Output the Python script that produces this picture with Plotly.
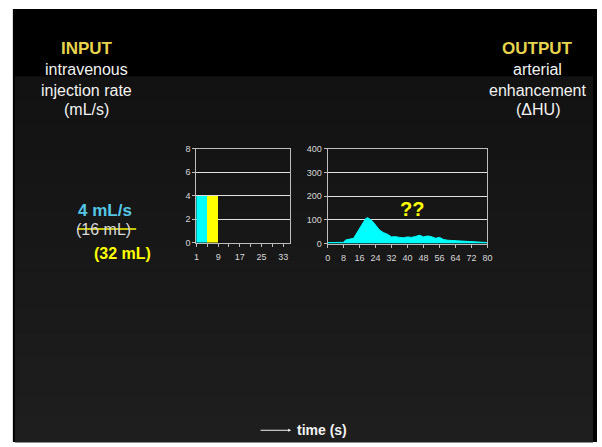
import plotly.graph_objects as go

# ---- data ----
# injection protocol: rate (mL/s) for each second of the injection
inj_time = [1, 2, 3, 4, 5, 6, 7, 8]
inj_rate = [4, 4, 4, 4, 4, 4, 4, 4]
inj_phase = ["first", "first", "first", "first", "second", "second", "second", "second"]

# arterial enhancement curve (HU) versus time (s)
enh_time = [0, 4, 8, 9, 10, 12, 13, 14, 16, 18, 19, 20, 21, 22, 24, 26, 28, 30, 32,
            34, 36, 38, 40, 42, 44, 46, 48, 50, 52, 54, 56, 58, 60, 64, 66, 68, 72, 76, 80]
enh_hu = [4, 5, 5, 15, 17, 18, 22, 36, 64, 89, 105, 109, 105, 98, 78, 57, 46, 39, 28,
          29, 26, 24, 28, 26, 30, 35, 28, 32, 29, 22, 26, 17, 14, 12, 12, 10, 8, 7, 4]

rate_ticks = [1, 9, 17, 25, 33]
time_ticks = [0, 8, 16, 24, 32, 40, 48, 56, 64, 72, 80]

W, H = 602, 447
FONT = "Liberation Sans, Arial, sans-serif"


def px(x):
    return x / W


def py(y):
    return 1 - y / H


phase_color = {"first": "#00FFFF", "second": "#FFFF00"}

fig = go.Figure()

fig.add_trace(go.Bar(
    x=inj_time, y=inj_rate, width=1, offset=0,
    marker=dict(color=[phase_color[p] for p in inj_phase], line=dict(width=0)),
    xaxis="x", yaxis="y", showlegend=False,
))

fig.add_trace(go.Scatter(
    x=enh_time, y=enh_hu, mode="lines", fill="tozeroy",
    fillcolor="#00FFFF", line=dict(color="#00FFFF", width=1),
    xaxis="x2", yaxis="y2", showlegend=False,
))

tickfont = dict(family=FONT, size=9, color="#d8d8d8")
axis_common = dict(
    showline=True, linecolor="#bdbdbd", linewidth=1, mirror=True,
    tickfont=tickfont, ticks="outside", ticklen=3, tickcolor="#bdbdbd",
    zeroline=False, fixedrange=True,
)

# slide background: white margin, black title band, dark gradient body
shapes = [
    dict(type="rect", xref="paper", yref="paper", x0=px(10), x1=px(602),
         y0=py(447), y1=py(4), fillcolor="#000000", line=dict(width=0), layer="below"),
]
top, bottom = 73, 447
steps = 30
for i in range(steps):
    y0 = top + (bottom - top) * i / steps
    y1 = top + (bottom - top) * (i + 1) / steps
    t = i / (steps - 1)
    v = int(round(0x12 + (0x1e - 0x12) * t))
    shapes.append(dict(type="rect", xref="paper", yref="paper", x0=px(12), x1=px(598),
                       y0=py(y1 + 0.5), y1=py(y0), fillcolor=f"rgb({v},{v},{v})",
                       line=dict(width=0), layer="below"))

# strike-through over the first-phase volume
shapes.append(dict(type="line", xref="paper", yref="paper",
                   x0=px(75), x1=px(135), y0=py(229), y1=py(229),
                   line=dict(color="#FFFF00", width=1.5)))

annotations = []


def txt(x, y, s, size, color, bold=False, anchor="center"):
    annotations.append(dict(
        x=px(x), y=py(y), xref="paper", yref="paper", showarrow=False,
        text=f"<b>{s}</b>" if bold else s, xanchor=anchor, yanchor="middle",
        borderpad=0,
        font=dict(family=FONT, size=size, color=color),
    ))


title_yellow = "#E8D44D"
txt(85, 45, "INPUT", 17, title_yellow, bold=True)
txt(85, 66, "intravenous", 16, "#f2f2f2")
txt(85, 87, "injection rate", 16, "#f2f2f2")
txt(85, 107, "(mL/s)", 16, "#f2f2f2")

txt(542, 45, "OUTPUT", 17, title_yellow, bold=True)
txt(542, 66, "arterial", 16, "#f2f2f2")
txt(542, 87, "enhancement", 16, "#f2f2f2")
txt(542, 107, "(ΔHU)", 16, "#f2f2f2")

txt(75, 210, "4 mL/s", 17, "#55C6E6", bold=True, anchor="left")
txt(73, 230, "(16 mL)", 16, "#d9d9d9", anchor="left")
txt(91, 254, "(32 mL)", 16, "#FFFF00", bold=True, anchor="left")

txt(415, 209, "??", 20, "#FFFF00", bold=True)

txt(297, 435, "time (s)", 14, "#f2f2f2", bold=True, anchor="left")
annotations.append(dict(
    x=px(292), y=py(435), xref="paper", yref="paper", ax=-32, ay=0,
    showarrow=True, arrowhead=2, arrowsize=0.6, arrowwidth=1, arrowcolor="#f2f2f2", text="",
))

fig.update_layout(
    width=W, height=H, margin=dict(l=0, r=0, t=0, b=0),
    paper_bgcolor="#ffffff", plot_bgcolor="rgba(0,0,0,0)",
    bargap=0, shapes=shapes, annotations=annotations,
    xaxis=dict(domain=[px(196), px(291)], anchor="y", range=[1, 35.5],
               tickmode="array", tickvals=rate_ticks, showgrid=False,
               ticklabelstandoff=3,
               minor=dict(dtick=4, tick0=1, ticks="outside", ticklen=3, tickcolor="#bdbdbd"),
               **axis_common),
    yaxis=dict(domain=[py(243), py(147)], anchor="x", range=[0, 8], dtick=2,
               showgrid=True, gridcolor="#e0e0e0", gridwidth=1, **axis_common),
    xaxis2=dict(domain=[px(329), px(491)], anchor="y2", range=[0, 80],
                tickmode="array", tickvals=time_ticks, showgrid=False,
                ticklabelstandoff=3, **axis_common),
    yaxis2=dict(domain=[py(244), py(147)], anchor="x2", range=[0, 400], dtick=100,
                showgrid=True, gridcolor="#e0e0e0", gridwidth=1, **axis_common),
)

fig.write_html("out.html")
